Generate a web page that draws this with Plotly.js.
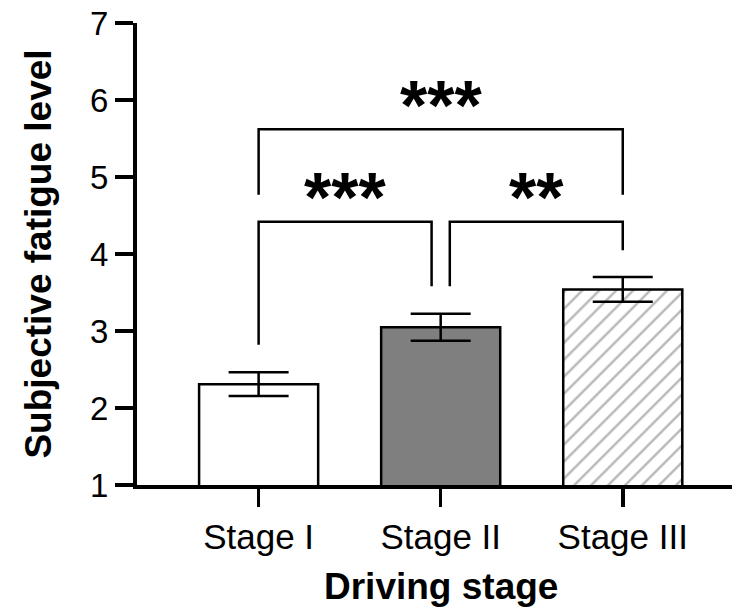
<!DOCTYPE html>
<html>
<head>
<meta charset="utf-8">
<script src="https://cdn.plot.ly/plotly-3.0.1.min.js"></script>
<style>html,body{margin:0;padding:0;background:#fff;}#chart{width:732px;height:610px;}</style>
</head>
<body>
<div id="chart"></div>
<script>
// ---- data ----
const stages = ['Stage I', 'Stage II', 'Stage III'];
const stagePos = [0, 1, 2];
const means = [2.31, 3.05, 3.54];
const sems = [0.155, 0.175, 0.16];
const barColors = ['#ffffff', '#7f7f7f', '#ffffff'];
const barPatterns = ['', '', '/'];

// significance brackets
const bracketLeft = [0, 1.05, 0];
const bracketRight = [0.95, 2, 2];
const bracketTop = [4.42, 4.42, 5.62];
const legLeftEnd = [2.82, 3.58, 4.77];
const legRightEnd = [3.58, 4.05, 4.77];
const sigLabels = ['***', '**', '***'];
const sigY = [4.86, 4.86, 6.05];

const yTicks = [1, 2, 3, 4, 5, 6, 7];

// ---- build ----
const FONT = 'Liberation Sans, Arial, Helvetica, sans-serif';

const traces = stages.map((s, i) => {
  const marker = {color: barColors[i], line: {color: '#000', width: 2.5}};
  if (barPatterns[i]) {
    marker.pattern = {shape: barPatterns[i], fgcolor: '#b8b8b8', bgcolor: '#ffffff', size: 12, solidity: 0.2};
  }
  return {
    type: 'bar', x: [stagePos[i]], y: [means[i]], width: 0.654,
    marker: marker,
    error_y: {type: 'data', array: [sems[i]], visible: true, color: '#000', thickness: 2.5, width: 30},
    showlegend: false, hoverinfo: 'skip'
  };
});

const bx = [], by = [];
for (let i = 0; i < bracketLeft.length; i++) {
  bx.push(bracketLeft[i], bracketLeft[i], bracketRight[i], bracketRight[i], null);
  by.push(legLeftEnd[i], bracketTop[i], bracketTop[i], legRightEnd[i], null);
}
traces.push({
  type: 'scatter', mode: 'lines', x: bx, y: by,
  line: {color: '#000', width: 2.5}, connectgaps: false,
  showlegend: false, hoverinfo: 'skip'
});

const annotations = sigLabels.map((t, i) => ({
  x: (bracketLeft[i] + bracketRight[i]) / 2, y: sigY[i], xref: 'x', yref: 'y',
  text: '<b>' + t + '</b>', showarrow: false,
  font: {family: FONT, size: 70, color: '#000'},
  xanchor: 'center', yanchor: 'middle', yshift: -10
}));
// x axis title, centred under the middle category
annotations.push({
  x: stagePos[1], y: 0, xref: 'x', yref: 'paper',
  text: '<b>Driving stage</b>', showarrow: false,
  font: {family: FONT, size: 37, color: '#000'},
  xanchor: 'center', yanchor: 'middle', yshift: -101
});

const layout = {
  width: 732, height: 610,
  margin: {l: 137, r: 0, t: 23, b: 125},
  paper_bgcolor: '#fff', plot_bgcolor: '#fff',
  font: {family: FONT, color: '#000'},
  showlegend: false,
  barmode: 'overlay',
  xaxis: {
    range: [-0.668, 2.60],
    tickvals: stagePos, ticktext: stages,
    ticks: 'outside', ticklen: 18, tickwidth: 3.5, tickcolor: '#000',
    showline: true, linewidth: 4, linecolor: '#000',
    showgrid: false, zeroline: false,
    tickfont: {family: FONT, size: 35, color: '#000'}
  },
  yaxis: {
    range: [1, 7],
    tickvals: yTicks,
    ticks: 'outside', ticklen: 18, tickwidth: 3.5, tickcolor: '#000',
    showline: true, linewidth: 4, linecolor: '#000',
    showgrid: false, zeroline: false,
    tickfont: {family: FONT, size: 33, color: '#000'},
    title: {text: '<b>Subjective fatigue level</b>', font: {family: FONT, size: 37, color: '#000'}, standoff: 28}
  },
  annotations: annotations
};

Plotly.newPlot('chart', traces, layout, {displayModeBar: false, staticPlot: true});
</script>
</body>
</html>
